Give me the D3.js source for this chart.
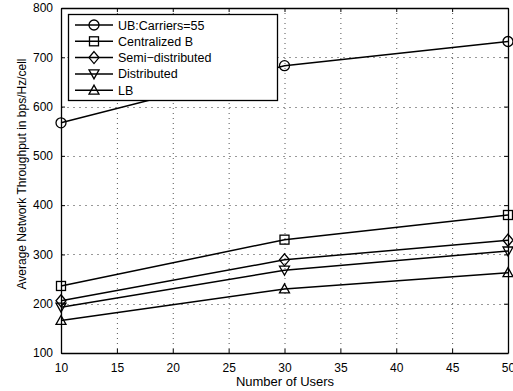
<!DOCTYPE html>
<html>
<head>
<meta charset="utf-8">
<script src="https://cdn.jsdelivr.net/npm/d3@7"></script>
<style>
body { margin: 0; background: #fff; }
text { font-family: "Liberation Sans", Arial, sans-serif; fill: #000; }
</style>
</head>
<body>
<div id="chart"></div>
<script>
// data
var users = [10, 30, 50];
var ubCarriers = [567, 683, 732];
var centralizedB = [236, 330, 380];
var semiDistributed = [206, 289, 329];
var distributed = [193, 268, 307];
var lb = [166, 230, 263];
var xTicks = [10, 15, 20, 25, 30, 35, 40, 45, 50];
var yTicks = [100, 200, 300, 400, 500, 600, 700, 800];

var series = [
    {name: "UB:Carriers=55", values: ubCarriers, marker: "circle"},
    {name: "Centralized B", values: centralizedB, marker: "square"},
    {name: "Semi\u2212distributed", values: semiDistributed, marker: "diamond"},
    {name: "Distributed", values: distributed, marker: "tridown"},
    {name: "LB", values: lb, marker: "triup"}
];

// layout
var W = 513, H = 391;
var m = {top: 8, right: 5, bottom: 38, left: 61};
var w = W - m.left - m.right, h = H - m.top - m.bottom;

var svg = d3.select("#chart").append("svg")
    .attr("width", W).attr("height", H)
    .append("g").attr("transform", "translate(" + m.left + "," + m.top + ")");

var x = d3.scaleLinear().domain([10, 50]).range([0, w]);
var y = d3.scaleLinear().domain([100, 800]).range([h, 0]);

// grid lines
svg.selectAll(".gx").data(xTicks.slice(1, -1)).enter().append("line")
    .attr("x1", d => x(d) + 0.5).attr("x2", d => x(d) + 0.5)
    .attr("y1", 0).attr("y2", h)
    .attr("stroke", "#555").attr("stroke-width", 1).attr("stroke-dasharray", "1,4");
svg.selectAll(".gy").data(yTicks.slice(1, -1)).enter().append("line")
    .attr("x1", 0).attr("x2", w)
    .attr("y1", d => Math.round(y(d)) + 0.5).attr("y2", d => Math.round(y(d)) + 0.5)
    .attr("stroke", "#999").attr("stroke-width", 1).attr("stroke-dasharray", "2,4");

// axes (matlab style, ticks inward on all sides)
var xb = svg.append("g").attr("transform", "translate(0," + h + ")")
    .call(d3.axisBottom(x).tickValues(xTicks).tickSizeInner(-4).tickSizeOuter(0).tickPadding(10));
var yl = svg.append("g")
    .call(d3.axisLeft(y).tickValues(yTicks).tickSizeInner(-4).tickSizeOuter(0).tickPadding(8));
var xt = svg.append("g")
    .call(d3.axisTop(x).tickValues(xTicks).tickSizeInner(-4).tickSizeOuter(0).tickFormat(""));
var yr = svg.append("g").attr("transform", "translate(" + w + ",0)")
    .call(d3.axisRight(y).tickValues(yTicks).tickSizeInner(-4).tickSizeOuter(0).tickFormat(""));
[xb, yl, xt, yr].forEach(function (g) {
    g.selectAll("path.domain").attr("stroke", "#000").attr("stroke-width", 1.3);
    g.selectAll("line").attr("stroke", "#000");
    g.selectAll("text").attr("font-size", "12px")
        .attr("font-family", "Liberation Sans, Arial, sans-serif");
});

// axis labels
svg.append("text").text("Number of Users")
    .attr("x", w / 2 + 0.5).attr("y", h + 33)
    .attr("text-anchor", "middle").attr("font-size", "13px");
svg.append("text").text("Average Network Throughput in bps/Hz/cell")
    .attr("transform", "rotate(-90)")
    .attr("x", -166).attr("y", -35)
    .attr("text-anchor", "middle").attr("font-size", "12px");

// marker drawing
function drawMarker(g, type, cx, cy) {
    var s = 5;
    var common = function (el) {
        return el.attr("fill", "none").attr("stroke", "#000").attr("stroke-width", 1.3);
    };
    if (type === "circle") {
        common(g.append("circle").attr("cx", cx).attr("cy", cy).attr("r", 5));
    } else if (type === "square") {
        common(g.append("rect").attr("x", cx - 4.5).attr("y", cy - 4.5)
            .attr("width", 9).attr("height", 9));
    } else if (type === "diamond") {
        common(g.append("path").attr("d", "M" + cx + "," + (cy - 6) + "L" + (cx + 5) + "," + cy +
            "L" + cx + "," + (cy + 6) + "L" + (cx - 5) + "," + cy + "Z"));
    } else if (type === "tridown") {
        common(g.append("path").attr("d", "M" + (cx - s) + "," + (cy - 4) + "L" + (cx + s) + "," + (cy - 4) +
            "L" + cx + "," + (cy + 5) + "Z"));
    } else {
        common(g.append("path").attr("d", "M" + (cx - s) + "," + (cy + 4) + "L" + (cx + s) + "," + (cy + 4) +
            "L" + cx + "," + (cy - 5) + "Z"));
    }
}

// lines and markers
var line = d3.line().x((d, i) => x(users[i])).y(d => y(d));
series.forEach(function (s) {
    svg.append("path").datum(s.values).attr("d", line)
        .attr("fill", "none").attr("stroke", "#000").attr("stroke-width", 1.5);
    var g = svg.append("g");
    s.values.forEach(function (v, i) {
        drawMarker(g, s.marker, x(users[i]), y(v));
    });
});

// legend
var lg = svg.append("g").attr("transform", "translate(7,6)");
lg.append("rect").attr("x", 0.5).attr("y", 0.5).attr("width", 209).attr("height", 86)
    .attr("fill", "#fff").attr("stroke", "#000").attr("stroke-width", 1.3);
series.forEach(function (s, i) {
    var ly = 11 + i * 16.3;
    lg.append("line").attr("x1", 7).attr("x2", 45).attr("y1", ly).attr("y2", ly)
        .attr("stroke", "#000").attr("stroke-width", 1.5);
    drawMarker(lg, s.marker, 26, ly);
    lg.append("text").text(s.name).attr("x", 50).attr("y", ly).attr("dy", "0.36em")
        .attr("font-size", "12.5px");
});
</script>
</body>
</html>
